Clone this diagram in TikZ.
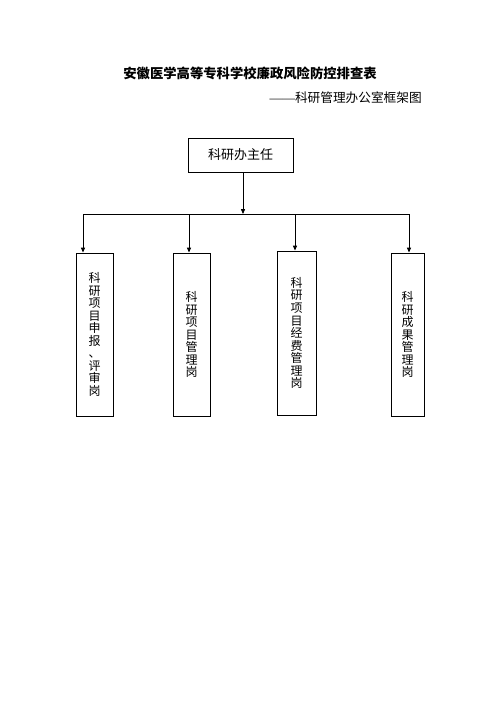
\documentclass[tikz,border=0pt]{standalone}
\usepackage{fontspec}
\newfontfamily\cjk{Noto Sans CJK SC}
\newfontfamily\dashfont{Liberation Serif}
\usetikzlibrary{arrows.meta}
\begin{document}
\begin{tikzpicture}
	[x=0.75pt,y=-0.75pt,
		every node/.style={font=\cjk},
		post/.style={draw,black,line width=0.7pt,inner sep=0pt},
		vpost/.style={post,align=center,minimum height=122.25pt,font=\cjk\fontsize{9}{9.4}\selectfont},
		link/.style={-{Triangle[length=3.6pt,width=3pt]},black,line width=0.6pt}]
	\useasboundingbox (0,0) rectangle (500,707);
	\node[font=\cjk\bfseries\fontsize{10}{12}\selectfont] (Title) at (250,73) {安徽医学高等专科学校廉政风险防控排查表};
	\node[anchor=east,inner sep=0pt,font=\cjk\fontsize{9.5}{12}\selectfont] (Sub) at (422,98) {{\dashfont ——}科研管理办公室框架图};
	\node[post,minimum width=78.75pt,minimum height=25.5pt,font=\cjk\fontsize{9.75}{12}\selectfont] (Head) at (240.5,155) {科研办主任};
	\node[vpost,minimum width=27.75pt] (A) at (94.5,334.5) {科\\研\\项\\目\\申\\报\\、\\评\\审\\岗};
	\node[vpost,minimum width=27.75pt] (B) at (191.5,334.5) {科\\研\\项\\目\\管\\理\\岗};
	\node[vpost,minimum width=29.25pt,minimum height=123pt] (C) at (296.5,333) {科\\研\\项\\目\\经\\费\\管\\理\\岗};
	\node[vpost,minimum width=24.75pt] (D) at (407.5,334.5) {科\\研\\成\\果\\管\\理\\岗};
	\coordinate (Bus) at (243,214);
	\coordinate (dA) at (83,214);
	\coordinate (dB) at (189,214);
	\coordinate (dC) at (295,214);
	\coordinate (dD) at (409,214);
	\draw[link] (Head.south -| Bus) -- (Bus);
	\draw[black,line width=0.6pt] (dA) -- (dD);
	\foreach \n in {A,B,C,D}
		\draw[link] (d\n) -- (d\n |- \n.north);
\end{tikzpicture}
\end{document}
